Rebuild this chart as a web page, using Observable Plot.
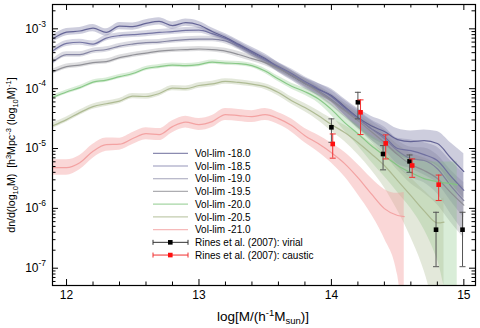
<!DOCTYPE html>
<html><head><meta charset="utf-8">
<script src="https://cdn.jsdelivr.net/npm/d3@7"></script>
<script src="https://cdn.jsdelivr.net/npm/@observablehq/plot@0.6"></script>
<style>
html,body{margin:0;padding:0;background:#fff;}
#chart{width:480px;height:328px;}
svg{font-family:"Liberation Sans",Arial,Helvetica,sans-serif;}
</style></head><body><div id="chart"></div>
<script>
// log10 mass grid (last entry of each series is placed at its own end mass)
const logM = [11.9,12.0,12.1,12.2,12.3,12.4,12.5,12.6,12.7,12.8,12.9,13.0,13.1,13.2,13.3,13.4,13.5,13.6,13.7,13.8,13.9,14.0,14.1,14.2,14.3,14.4,14.5,14.6,14.7,14.8,14.9,15.0];

const seriesNames = ["Vol-lim -18.0","Vol-lim -18.5","Vol-lim -19.0","Vol-lim -19.5","Vol-lim -20.0","Vol-lim -20.5","Vol-lim -21.0"];
const endMass = [15.0,15.0,15.0,15.0,14.95,14.85,14.55];

const vol18_0 = [6.9e-4,8.8e-4,9.2e-4,1.03e-3,8.7e-4,1.11e-3,1.09e-3,1.23e-3,1.33e-3,1.13e-3,1.27e-3,1.16e-3,9.0e-4,7.2e-4,5.5e-4,4.17e-4,3.18e-4,2.25e-4,1.66e-4,1.22e-4,9.7e-5,7.7e-5,5.0e-5,3.3e-5,2.4e-5,1.92e-5,1.41e-5,1.30e-5,1.35e-5,1.21e-5,7.0e-6,4.1e-6];
const vol18_5 = [4.34e-4,5.7e-4,5.97e-4,5.57e-4,7.0e-4,7.7e-4,8.0e-4,8.3e-4,8.7e-4,9.0e-4,9.4e-4,9.5e-4,8.3e-4,6.9e-4,5.3e-4,4.0e-4,3.07e-4,2.34e-4,1.79e-4,1.32e-4,1.0e-4,7.4e-5,4.8e-5,3.2e-5,2.15e-5,1.58e-5,1.0e-5,9.2e-6,7.9e-6,6.3e-6,3.5e-6,2.0e-6];
const vol19_0 = [2.84e-4,3.72e-4,3.72e-4,4.26e-4,4.51e-4,5.15e-4,5.57e-4,5.9e-4,6.0e-4,6.37e-4,6.62e-4,6.75e-4,6.75e-4,6.25e-4,5.06e-4,3.86e-4,2.95e-4,2.25e-4,1.72e-4,1.27e-4,9.3e-5,6.6e-5,4.47e-5,3.16e-5,2.15e-5,1.47e-5,9.2e-6,6.8e-6,6.3e-6,4.6e-6,2.4e-6,1.35e-6];
const vol19_5 = [1.93e-4,2.34e-4,2.48e-4,2.73e-4,2.84e-4,3.31e-4,3.65e-4,3.94e-4,4.25e-4,4.42e-4,4.5e-4,4.6e-4,4.5e-4,4.25e-4,3.72e-4,3.18e-4,2.73e-4,2.17e-4,1.66e-4,1.22e-4,8.9e-5,6.3e-5,4.3e-5,2.93e-5,1.92e-5,1.26e-5,7.9e-6,5.4e-6,4.3e-6,3.15e-6,1.85e-6,1.13e-6];
const vol20_0 = [7.24e-5,8.8e-5,1.04e-4,1.29e-4,1.39e-4,1.59e-4,1.79e-4,2.17e-4,2.34e-4,2.48e-4,2.43e-4,2.53e-4,2.78e-4,2.68e-4,2.63e-4,2.43e-4,1.97e-4,1.45e-4,1.10e-4,8.9e-5,6.8e-5,4.5e-5,2.71e-5,1.77e-5,1.12e-5,7.6e-6,5.2e-6,3.95e-6,3.14e-6,2.79e-6,2.59e-6,2.5e-6];
const vol20_5 = [2.42e-5,3.04e-5,3.98e-5,5.02e-5,5.6e-5,6.2e-5,7.5e-5,7.4e-5,8.3e-5,1.02e-4,1.0e-4,1.13e-4,1.20e-4,1.32e-4,1.27e-4,1.19e-4,1.08e-4,8.6e-5,6.3e-5,4.83e-5,3.55e-5,2.51e-5,1.85e-5,1.26e-5,8.2e-6,5.2e-6,2.9e-6,1.63e-6,9.1e-7,5.7e-7,5.9e-7];
const vol21_0 = [4.8e-6,4.8e-6,5.8e-6,9.0e-6,1.16e-5,1.18e-5,1.47e-5,1.77e-5,1.71e-5,2.32e-5,2.76e-5,2.51e-5,2.82e-5,3.69e-5,3.55e-5,3.41e-5,3.69e-5,3.16e-5,2.42e-5,1.64e-5,1.21e-5,8.5e-6,5.6e-6,3.26e-6,1.76e-6,9.9e-7,7.6e-7,7.3e-7];

// upper and lower extents of the shaded bands, in dex
const up18_0 = [0.06,0.06,0.06,0.06,0.06,0.06,0.06,0.06,0.06,0.06,0.06,0.06,0.06,0.06,0.065,0.07,0.075,0.08,0.085,0.09,0.1,0.11,0.13,0.15,0.16,0.17,0.18,0.18,0.18,0.2,0.25,0.3];
const lo18_0 = [0.06,0.06,0.06,0.06,0.06,0.06,0.06,0.06,0.06,0.06,0.06,0.06,0.06,0.06,0.065,0.07,0.075,0.08,0.085,0.09,0.1,0.11,0.14,0.17,0.2,0.23,0.26,0.3,0.34,0.38,0.42,0.45];
const up18_5 = [0.05,0.05,0.05,0.05,0.05,0.05,0.05,0.05,0.05,0.05,0.05,0.05,0.05,0.055,0.06,0.06,0.065,0.07,0.075,0.08,0.09,0.1,0.12,0.14,0.15,0.16,0.17,0.18,0.2,0.22,0.25,0.28];
const lo18_5 = [0.05,0.05,0.05,0.05,0.05,0.05,0.05,0.05,0.05,0.05,0.05,0.05,0.05,0.055,0.06,0.06,0.065,0.07,0.075,0.08,0.09,0.1,0.13,0.16,0.19,0.22,0.26,0.3,0.34,0.38,0.42,0.46];
const up19_0 = [0.045,0.045,0.045,0.045,0.045,0.045,0.045,0.045,0.045,0.045,0.045,0.045,0.045,0.05,0.055,0.055,0.06,0.065,0.07,0.075,0.085,0.095,0.11,0.12,0.13,0.15,0.17,0.19,0.21,0.23,0.26,0.3];
const lo19_0 = [0.045,0.045,0.045,0.045,0.045,0.045,0.045,0.045,0.045,0.045,0.045,0.045,0.045,0.05,0.055,0.055,0.06,0.065,0.07,0.075,0.085,0.095,0.12,0.15,0.18,0.22,0.27,0.32,0.37,0.42,0.47,0.52];
const up19_5 = [0.042,0.042,0.042,0.042,0.042,0.042,0.042,0.042,0.042,0.042,0.042,0.042,0.042,0.045,0.05,0.05,0.055,0.06,0.065,0.07,0.08,0.09,0.1,0.11,0.13,0.15,0.17,0.19,0.21,0.24,0.27,0.3];
const lo19_5 = [0.042,0.042,0.042,0.042,0.042,0.042,0.042,0.042,0.042,0.042,0.042,0.042,0.042,0.045,0.05,0.05,0.055,0.06,0.065,0.07,0.08,0.09,0.11,0.14,0.17,0.21,0.26,0.32,0.38,0.44,0.5,0.55];
const up20_0 = [0.035,0.035,0.035,0.035,0.035,0.035,0.035,0.035,0.035,0.035,0.035,0.035,0.035,0.035,0.035,0.035,0.04,0.045,0.05,0.06,0.07,0.09,0.11,0.14,0.17,0.2,0.23,0.26,0.3,0.33,0.36,0.38];
const lo20_0 = [0.035,0.035,0.035,0.035,0.035,0.035,0.035,0.035,0.035,0.035,0.035,0.035,0.035,0.035,0.035,0.035,0.04,0.045,0.05,0.06,0.07,0.1,0.14,0.2,0.27,0.35,0.45,0.6,0.85,1.3,2.0,2.0];
const up20_5 = [0.045,0.045,0.045,0.045,0.045,0.045,0.045,0.045,0.045,0.045,0.045,0.045,0.045,0.045,0.045,0.045,0.05,0.055,0.06,0.07,0.08,0.1,0.12,0.15,0.18,0.22,0.26,0.3,0.34,0.38,0.4];
const lo20_5 = [0.045,0.045,0.045,0.045,0.045,0.045,0.045,0.045,0.045,0.045,0.045,0.045,0.045,0.045,0.045,0.045,0.05,0.055,0.06,0.07,0.08,0.11,0.15,0.2,0.27,0.37,0.5,0.7,1.0,1.6,2.0];
const up21_0 = [0.13,0.13,0.12,0.115,0.11,0.1,0.1,0.1,0.1,0.1,0.1,0.1,0.1,0.1,0.1,0.1,0.1,0.1,0.11,0.12,0.14,0.16,0.19,0.22,0.26,0.32,0.37,0.4];
const lo21_0 = [0.13,0.13,0.12,0.115,0.11,0.1,0.1,0.1,0.1,0.1,0.1,0.1,0.1,0.1,0.1,0.1,0.1,0.1,0.11,0.12,0.14,0.17,0.22,0.28,0.34,0.5,1.0,2.0];

const lineColors = ["#5a5a8e","#6a6a9c","#7c7c9c","#8a8a90","#80c47e","#a9b68c","#f29c9c"];
const bandOpacity = [0.3,0.28,0.28,0.28,0.3,0.32,0.4];

// Rines et al. (2007)
const virialM  = [14.0, 14.2, 14.39, 14.59, 14.79, 14.99];
const virialN  = [2.26e-5, 5.93e-5, 8.1e-6, 6.1e-6, 4.4e-7, 4.4e-7];
const virialHi = [3.13e-5, 8.7e-5, 1.12e-5, 7.8e-6, 8.6e-7, 8.6e-7];
const virialLo = [1.27e-5, 3.13e-5, 4.4e-6, 4.0e-6, 1.06e-7, 1.06e-7];
const causticM  = [14.01, 14.22, 14.41, 14.61, 14.81];
const causticN  = [1.19e-5, 4.03e-5, 1.22e-5, 5.2e-6, 2.49e-6];
const causticHi = [1.75e-5, 6.5e-5, 1.69e-5, 6.7e-6, 3.6e-6];
const causticLo = [6.9e-6, 1.71e-5, 6.7e-6, 3.3e-6, 1.35e-6];

const xTicks = [12, 13, 14, 15];
const yTicks = [1e-7, 1e-6, 1e-5, 1e-4, 1e-3];
const yTickExp = ["-7", "-6", "-5", "-4", "-3"];

// ---------- build tables ----------
const values = [vol18_0, vol18_5, vol19_0, vol19_5, vol20_0, vol20_5, vol21_0];
const ups = [up18_0, up18_5, up19_0, up19_5, up20_0, up20_5, up21_0];
const los = [lo18_0, lo18_5, lo19_0, lo19_5, lo20_0, lo20_5, lo21_0];
const series = seriesNames.map((name, si) => ({
  name, color: lineColors[si], op: bandOpacity[si],
  rows: values[si].map((v, i) => ({
    m: i === values[si].length - 1 ? endMass[si] : logM[i],
    v, lo: v / Math.pow(10, los[si][i]), hi: v * Math.pow(10, ups[si][i])
  }))
}));
const virial = virialM.map((m, i) => ({m, n: virialN[i], hi: virialHi[i], lo: virialLo[i]}));
const caustic = causticM.map((m, i) => ({m, n: causticN[i], hi: causticHi[i], lo: causticLo[i]}));

const W = 480, H = 328, mL = 52, mR = 5, mT = 4, mB = 43;
const plotW = W - mL - mR, plotH = H - mT - mB;
const xMajor = xTicks;
const xMinor = d3.range(12, 15.01, 0.2).map(d => +d.toFixed(1)).filter(d => !xMajor.includes(d));
const yDomain = [5.14e-8, 2.55e-3];
const yMinor = [];
for (let k = -8; k <= -3; k++) for (let j = 2; j <= 9; j++) { const v = j * Math.pow(10, k); if (v > yDomain[0] && v < yDomain[1]) yMinor.push(v); }

const cap = {draw(ctx, size) { const r = Math.sqrt(size / Math.PI); ctx.moveTo(-r, 0); ctx.lineTo(r, 0); }};

const marks = [];
series.forEach(s => marks.push(Plot.areaY(s.rows, {x: "m", y1: "lo", y2: "hi", fill: s.color, fillOpacity: s.op, curve: "monotone-x", clip: true})));
series.forEach(s => marks.push(Plot.line(s.rows, {x: "m", y: "v", stroke: s.color, strokeWidth: 1.2, strokeOpacity: 0.9, curve: "monotone-x", clip: true})));
[[virial, "#555", "black"], [caustic, "#f03030", "#ff1010"]].forEach(([d, c, f]) => {
  marks.push(Plot.ruleX(d, {x: "m", y1: "lo", y2: "hi", stroke: c, strokeWidth: 1, clip: true}));
  marks.push(Plot.dot(d, {x: "m", y: "lo", symbol: cap, r: 3, stroke: c, strokeWidth: 1, fill: "none"}));
  marks.push(Plot.dot(d, {x: "m", y: "hi", symbol: cap, r: 3, stroke: c, strokeWidth: 1, fill: "none"}));
  marks.push(Plot.dot(d, {x: "m", y: "n", symbol: "square", r: 2.6, fill: f, stroke: "none"}));
});
// inward ticks on all four sides
marks.push(Plot.tickX(xMajor, {x: d => d, insetTop: plotH - 6, stroke: "black"}));
marks.push(Plot.tickX(xMinor, {x: d => d, insetTop: plotH - 3.5, stroke: "black"}));
marks.push(Plot.tickX(xMajor, {x: d => d, insetBottom: plotH - 6, stroke: "black"}));
marks.push(Plot.tickX(xMinor, {x: d => d, insetBottom: plotH - 3.5, stroke: "black"}));
marks.push(Plot.tickY(yTicks, {y: d => d, insetRight: plotW - 6, stroke: "black"}));
marks.push(Plot.tickY(yMinor, {y: d => d, insetRight: plotW - 3.5, stroke: "black"}));
marks.push(Plot.tickY(yTicks, {y: d => d, insetLeft: plotW - 6, stroke: "black"}));
marks.push(Plot.tickY(yMinor, {y: d => d, insetLeft: plotW - 3.5, stroke: "black"}));
marks.push(Plot.frame({stroke: "black", strokeWidth: 1.2}));
// tick labels
marks.push(Plot.text(xTicks, {x: d => d, text: d => String(d), frameAnchor: "bottom", dy: 13, fontSize: 12, fill: "black"}));
marks.push(Plot.text(yTicks, {y: d => d, text: () => "10", frameAnchor: "left", textAnchor: "end", dx: -14, fontSize: 12, fill: "black"}));
marks.push(Plot.text(yTicks, {y: d => d, text: (d, i) => yTickExp[i], frameAnchor: "left", textAnchor: "start", dx: -14, dy: -5, fontSize: 8.5, fill: "black"}));

const plot = Plot.plot({
  width: W, height: H,
  marginLeft: mL, marginRight: mR, marginTop: mT, marginBottom: mB,
  x: {domain: [11.894, 15.088], axis: null},
  y: {type: "log", domain: yDomain, axis: null},
  style: {fontFamily: '"Liberation Sans", Arial, Helvetica, sans-serif', background: "white"},
  marks
});
document.getElementById("chart").appendChild(plot);

// ---------- axis titles (with super/subscripts) and legend ----------
const svg = d3.select(plot);
const ff = '"Liberation Sans", Arial, Helvetica, sans-serif';
function rich(t, parts, small, up, down) {
  let shift = 0;
  parts.forEach(([s, kind]) => {
    const ts = t.append("tspan").text(s);
    const target = kind === "sup" ? -up : kind === "sub" ? down : 0;
    if (target !== shift) ts.attr("dy", target - shift);
    if (kind) ts.attr("font-size", small);
    shift = target;
  });
}
const xt = svg.append("text").attr("x", 263).attr("y", 321).attr("text-anchor", "middle")
  .attr("font-family", ff).attr("font-size", 13.5).attr("fill", "black");
rich(xt, [["log[M/(h"], ["-1", "sup"], ["M"], ["sun", "sub"], [")]"]], 9.5, 5, 3);
const yt = svg.append("text").attr("transform", "translate(15,155) rotate(-90)").attr("text-anchor", "middle")
  .attr("font-family", ff).attr("font-size", 10.6).attr("fill", "black");
rich(yt, [["dn/d(log"], ["10", "sub"], ["M)  [h"], ["3", "sup"], ["Mpc"], ["-3", "sup"], [" (log"], ["10", "sub"], ["M)"], ["-1", "sup"], ["]"]], 7.5, 4, 2.5);

const leg = svg.append("g").attr("font-family", ff).attr("font-size", 10).attr("fill", "black").attr("text-anchor", "start");
const legendLabels = seriesNames.concat(["Rines et al. (2007): virial", "Rines et al. (2007): caustic"]);
legendLabels.forEach((lab, i) => {
  const y = 153.3 + i * 12.72;
  if (i < 7) {
    leg.append("line").attr("x1", 153).attr("x2", 188).attr("y1", y).attr("y2", y)
      .attr("stroke", lineColors[i]).attr("stroke-opacity", 0.7).attr("stroke-width", 1.2);
  } else {
    const c = i === 7 ? "#333" : "#f03030", f = i === 7 ? "black" : "#ff1010";
    leg.append("line").attr("x1", 153).attr("x2", 188).attr("y1", y).attr("y2", y).attr("stroke", c);
    leg.append("line").attr("x1", 153).attr("x2", 153).attr("y1", y - 2.5).attr("y2", y + 2.5).attr("stroke", c);
    leg.append("line").attr("x1", 188).attr("x2", 188).attr("y1", y - 2.5).attr("y2", y + 2.5).attr("stroke", c);
    leg.append("rect").attr("x", 168).attr("y", y - 2.3).attr("width", 4.6).attr("height", 4.6).attr("fill", f);
  }
  leg.append("text").attr("x", 195).attr("y", y + 3.6).text(lab);
});
</script></body></html>
